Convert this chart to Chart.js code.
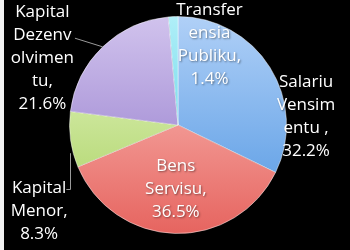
<!DOCTYPE html>
<html>
<head>
<meta charset="utf-8">
<script src="https://cdn.jsdelivr.net/npm/chart.js@4"></script>
<style>
  html, body { margin: 0; padding: 0; background: #000; }
  body { width: 350px; height: 250px; overflow: hidden; position: relative; }
  #pie { position: absolute; left: 0; top: 0; }
  .edge { position: absolute; left: 0; top: 0; width: 4px; height: 250px; background: #f2f2f2; }
</style>
</head>
<body>
<canvas id="pie" width="350" height="250"></canvas>
<div class="edge"></div>
<script>
// slices, clockwise from 12 o'clock
const categories = ['Salariu Vensimentu', 'Bens Servisu', 'Kapital Menor', 'Kapital Dezenvolvimentu', 'Transferensia Publiku'];
const shares = [32.2, 36.5, 8.3, 21.6, 1.4];
// label text as Excel wrapped it
const labelLines = [
  ['Salariu', 'Vensim', 'entu ,'],
  ['Bens', 'Servisu,'],
  ['Kapital', 'Menor,'],
  ['Kapital', 'Dezenv', 'olvimen', 'tu,'],
  ['Transfer', 'ensia', 'Publiku,']
];
const topColors = ['#b0d0f7', '#fdc9c4', '#e9f8c8', '#d1c3ed', '#b0eff8'];
const bottomColors = ['#5096e2', '#e6645f', '#a6cf5e', '#8c72c8', '#45c8e0'];

// label centre, in pie radii from the centre
const labelPos = [[1.18, -0.08], [-0.02, 0.59], [-1.28, 0.79], [-1.25, -0.62], [0.29, -0.74]];

function sliceFill(context) {
  const i = context.dataIndex;
  const area = context.chart.chartArea;
  if (!area) return bottomColors[i];
  const g = context.chart.ctx.createLinearGradient(0, area.top, 0, area.bottom);
  g.addColorStop(0, topColors[i]);
  g.addColorStop(1, bottomColors[i]);
  return g;
}

const pieLabels = {
  id: 'pieLabels',
  afterDatasetsDraw(chart) {
    const ctx = chart.ctx;
    const arcs = chart.getDatasetMeta(0).data;
    const cx = arcs[0].x, cy = arcs[0].y, r = arcs[0].outerRadius;

    // leader lines
    ctx.save();
    ctx.strokeStyle = '#9a9a9a';
    ctx.lineWidth = 1;
    const dz = arcs[3];
    const mid = (dz.startAngle + dz.endAngle) / 2;
    ctx.beginPath();
    ctx.moveTo(cx - 0.95 * r, cy - 0.80 * r);
    ctx.lineTo(cx + Math.cos(mid) * r, cy + Math.sin(mid) * r);
    ctx.stroke();
    ctx.beginPath();
    ctx.moveTo(Math.round(cx - 1.0 * r) + 0.5, cy + 0.26 * r);
    ctx.lineTo(Math.round(cx - 1.0 * r) + 0.5, Math.round(cy + 0.59 * r) + 0.5);
    ctx.lineTo(cx - 1.03 * r, Math.round(cy + 0.59 * r) + 0.5);
    ctx.stroke();
    ctx.restore();

    // labels
    ctx.save();
    ctx.font = '17px "Open Sans"';
    ctx.fillStyle = '#ffffff';
    ctx.textAlign = 'center';
    ctx.textBaseline = 'middle';
    ctx.shadowColor = 'rgba(0,0,0,0.45)';
    ctx.shadowBlur = 2;
    ctx.shadowOffsetX = 1;
    ctx.shadowOffsetY = 1;
    const lh = 23;
    labelLines.forEach((lines, i) => {
      const all = lines.concat([shares[i].toFixed(1) + '%']);
      const x = cx + labelPos[i][0] * r;
      const y0 = cy + labelPos[i][1] * r - (all.length - 1) * lh / 2;
      all.forEach((t, k) => ctx.fillText(t, x, y0 + k * lh));
    });
    ctx.restore();
  }
};

new Chart(document.getElementById('pie'), {
  type: 'pie',
  data: {
    labels: categories,
    datasets: [{
      data: shares,
      backgroundColor: sliceFill,
      borderColor: 'rgba(255,255,255,0.45)',
      borderWidth: 1
    }]
  },
  options: {
    responsive: false,
    animation: false,
    layout: { padding: { top: 16, bottom: 16, left: 69, right: 63 } },
    plugins: { legend: { display: false }, tooltip: { enabled: false } }
  },
  plugins: [pieLabels]
});
</script>
</body>
</html>
